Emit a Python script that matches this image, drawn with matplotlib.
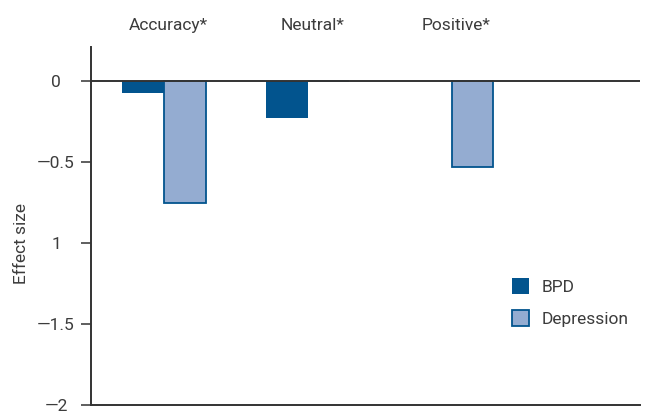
import numpy as np
import matplotlib
matplotlib.use('Agg')
import matplotlib.pyplot as plt
from matplotlib.patches import Patch

plt.rcParams['font.family'] = ['Roboto', 'DejaVu Sans']

# data
categories = ['Accuracy*', 'Neutral*', 'Positive*']
bpd = [-0.076, -0.226, 0.0]
depression = [-0.75, 0.0, -0.53]
yticks = [0, -0.5, -1, -1.5, -2]
yticklabels = ['0', '\u20140.5', '1', '\u20141.5', '\u20142']

dark = '#02548e'
light = '#94acd1'
txt = '#3c3c3c'
fs = 12.5

fig = plt.figure(figsize=(6.47, 4.12), dpi=100)
ax = fig.add_axes([91/647, 1-405/412, 549/647, 358/412])

x = np.arange(len(categories))
w = 0.29
ax.bar(x - w/2, bpd, w, color=dark, edgecolor='none', zorder=2)
ax.bar(x + w/2, depression, w, color=light, edgecolor=dark, linewidth=1.3, zorder=2)
ax.axhline(0, color='#333333', lw=1.4, zorder=3)

ax.set_xlim(-0.507, 3.31)
ax.set_ylim(-2, 0.21)

# category labels across the top
for xi, cat in zip(x, categories):
    ax.text(xi + 0.03, 0.34, cat, ha='center', va='center', fontsize=fs, color=txt)

ax.set_xticks([])
ax.set_yticks(yticks)
ax.set_yticklabels(yticklabels, fontsize=fs, color=txt, ha='center')
ax.tick_params(axis='y', length=7.2, width=1.1, color='#333333', pad=18)

for s in ['top', 'right']:
    ax.spines[s].set_visible(False)
for s in ['left', 'bottom']:
    ax.spines[s].set_color('#333333')
    ax.spines[s].set_linewidth(1.4)

ax.set_ylabel('Effect size', fontsize=fs, color=txt)
ax.yaxis.set_label_coords(-0.113, 0.4525)

handles = [Patch(facecolor=dark, edgecolor='none', label='BPD'),
           Patch(facecolor=light, edgecolor=dark, linewidth=1.3, label='Depression')]
ax.legend(handles=handles, loc='upper left', bbox_to_anchor=(512/647, 1-278/412),
          bbox_transform=fig.transFigure, frameon=False, fontsize=fs,
          handlelength=1.0, handleheight=1.0, handletextpad=0.7,
          labelspacing=0.9, borderpad=0, borderaxespad=0, labelcolor=txt)

fig.savefig('out.png', dpi=100)
